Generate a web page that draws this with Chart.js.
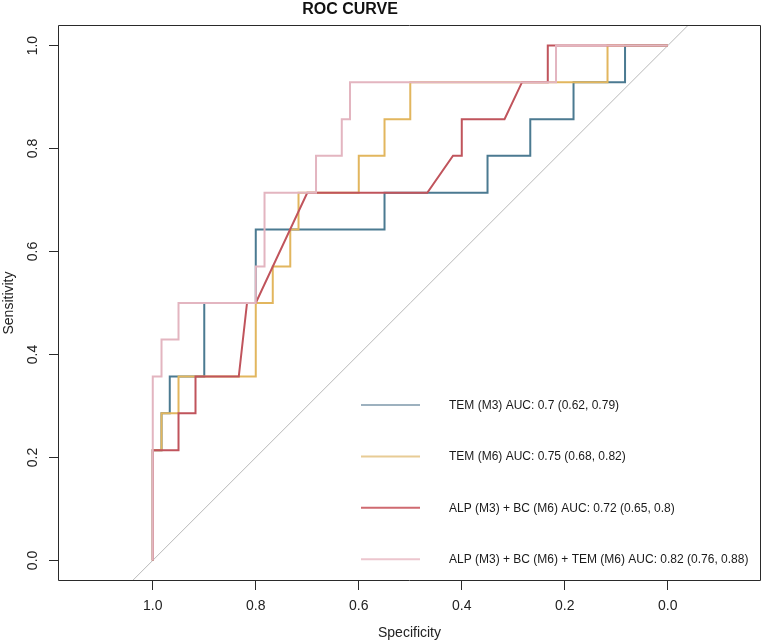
<!DOCTYPE html>
<html><head><meta charset="utf-8">
<script src="https://cdn.jsdelivr.net/npm/chart.js@4/dist/chart.umd.min.js"></script>
<style>html,body{margin:0;padding:0;background:#fff}#wrap{width:764px;height:643px}</style>
</head><body><div id="wrap"><canvas id="c" width="764" height="643"></canvas></div>
<script>
// ---- data ----
const chartTitle = 'ROC CURVE';
const xTitle = 'Specificity';
const yTitle = 'Sensitivity';
const tickValues = [0, 0.2, 0.4, 0.6, 0.8, 1.0];

const seriesLabels = [
  'TEM (M3) AUC: 0.7 (0.62, 0.79)',
  'TEM (M6) AUC: 0.75 (0.68, 0.82)',
  'ALP (M3) + BC (M6) AUC: 0.72 (0.65, 0.8)',
  'ALP (M3) + BC (M6) + TEM (M6) AUC: 0.82 (0.76, 0.88)'
];

const tem3Spec = [1, 1, 0.983, 0.983, 0.967, 0.967, 0.9, 0.9, 0.8, 0.8, 0.55, 0.55, 0.35, 0.35, 0.267, 0.267, 0.183, 0.183, 0.083, 0.083, 0];
const tem3Sens = [0, 0.214, 0.214, 0.286, 0.286, 0.357, 0.357, 0.5, 0.5, 0.643, 0.643, 0.714, 0.714, 0.786, 0.786, 0.857, 0.857, 0.929, 0.929, 1, 1];

const tem6Spec = [1, 1, 0.983, 0.983, 0.95, 0.95, 0.8, 0.8, 0.767, 0.767, 0.733, 0.733, 0.717, 0.717, 0.6, 0.6, 0.55, 0.55, 0.5, 0.5, 0.117, 0.117, 0];
const tem6Sens = [0, 0.214, 0.214, 0.286, 0.286, 0.357, 0.357, 0.5, 0.5, 0.571, 0.571, 0.643, 0.643, 0.714, 0.714, 0.786, 0.786, 0.857, 0.857, 0.929, 0.929, 1, 1];

const alpBcSpec = [1, 1, 0.95, 0.95, 0.917, 0.917, 0.833, 0.817, 0.8, 0.7, 0.467, 0.417, 0.4, 0.4, 0.317, 0.283, 0.233, 0.233, 0];
const alpBcSens = [0, 0.214, 0.214, 0.286, 0.286, 0.357, 0.357, 0.5, 0.5, 0.714, 0.714, 0.786, 0.786, 0.857, 0.857, 0.929, 0.929, 1, 1];

const alpBcTemSpec = [1, 1, 0.983, 0.983, 0.95, 0.95, 0.8, 0.8, 0.783, 0.783, 0.683, 0.683, 0.633, 0.633, 0.617, 0.617, 0.217, 0.217, 0];
const alpBcTemSens = [0, 0.357, 0.357, 0.429, 0.429, 0.5, 0.5, 0.571, 0.571, 0.714, 0.714, 0.786, 0.786, 0.857, 0.857, 0.929, 0.929, 1, 1];

// chance diagonal (sensitivity = 1 - specificity), extended past the axes and clipped
const diagSpec = [1.3, -0.3];
const diagSens = [-0.3, 1.3];

// ---- styles ----
const lineColors = ['#4b7a91', '#e2b65e', '#c0545c', '#e3b5c0'];
const legendColors = ['#9db1bf', '#e8cc95', '#cf6a70', '#ecc6ce'];
const FONT = '"Liberation Sans", Arial, Helvetica, sans-serif';

function pts(xs, ys) { return xs.map((x, i) => ({ x: x, y: ys[i] })); }

const seriesData = [
  pts(tem3Spec, tem3Sens),
  pts(tem6Spec, tem6Sens),
  pts(alpBcSpec, alpBcSens),
  pts(alpBcTemSpec, alpBcTemSens)
];

const datasets = [{
  label: 'diag', data: pts(diagSpec, diagSens), showLine: true, borderColor: '#b8b8b8',
  borderWidth: 1, pointRadius: 0, order: 10
}];
seriesData.forEach((d, i) => datasets.push({
  label: seriesLabels[i], data: d, showLine: true, borderColor: lineColors[i],
  borderWidth: 2, pointRadius: 0, order: 5 - i, tension: 0
}));

const extras = {
  id: 'extras',
  afterDraw(chart) {
    const ctx = chart.ctx, a = chart.chartArea;
    ctx.save();
    // box
    const L = Math.round(a.left) + 0.5, R = Math.round(a.right) - 0.5;
    const T = Math.round(a.top) + 0.5, B = Math.round(a.bottom) - 0.5;
    ctx.strokeStyle = '#2a2a2a'; ctx.lineWidth = 1; ctx.setLineDash([]);
    ctx.beginPath();
    ctx.moveTo(L, T); ctx.lineTo(R, T); ctx.lineTo(R, B); ctx.lineTo(L, B); ctx.closePath();
    ctx.stroke();
    // title
    ctx.fillStyle = '#111';
    ctx.font = 'bold 16px ' + FONT;
    ctx.textAlign = 'center'; ctx.textBaseline = 'middle';
    ctx.fillText(chartTitle, 350, 10);
    // legend
    ctx.font = '12px ' + FONT;
    ctx.textAlign = 'left';
    const rowsY = [405, 456.5, 507.8, 559.2];
    seriesLabels.forEach((t, i) => {
      ctx.strokeStyle = legendColors[i]; ctx.lineWidth = 2;
      ctx.beginPath(); ctx.moveTo(361, rowsY[i]); ctx.lineTo(420, rowsY[i]); ctx.stroke();
      ctx.fillStyle = '#1a1a1a';
      ctx.fillText(t, 449, rowsY[i] + 0.5);
    });
    ctx.restore();
  }
};

new Chart(document.getElementById('c'), {
  type: 'scatter',
  data: { datasets: datasets },
  plugins: [extras],
  options: {
    responsive: false, animation: false, devicePixelRatio: 1,
    layout: { padding: { top: 25, right: 3, left: 0, bottom: 0 } },
    plugins: { legend: { display: false }, tooltip: { enabled: false }, title: { display: false } },
    scales: {
      x: {
        type: 'linear', reverse: true, min: -0.181, max: 1.184,
        afterBuildTicks: s => { s.ticks = tickValues.map(v => ({ value: v })); },
        afterFit: s => { s.height = 62; },
        grid: { drawOnChartArea: false, drawTicks: true, tickLength: 9, tickColor: '#2a2a2a', tickWidth: 1 },
        border: { display: false },
        ticks: { color: '#222', padding: 8, font: { family: FONT, size: 14 }, callback: v => Number(v).toFixed(1), maxRotation: 0, minRotation: 0 },
        title: { display: true, text: xTitle, color: '#222', font: { family: FONT, size: 14 }, padding: { top: 0, bottom: 1 } }
      },
      y: {
        type: 'linear', min: -0.04, max: 1.04,
        afterBuildTicks: s => { s.ticks = tickValues.map(v => ({ value: v })); },
        afterFit: s => { s.width = 58; },
        grid: { drawOnChartArea: false, drawTicks: true, tickLength: 9, tickColor: '#2a2a2a', tickWidth: 1 },
        border: { display: false },
        ticks: { color: '#222', padding: 6, crossAlign: 'center', minRotation: 90, maxRotation: 90, font: { family: FONT, size: 14 }, callback: v => Number(v).toFixed(1) },
        title: { display: true, text: yTitle, color: '#222', font: { family: FONT, size: 14 }, padding: { top: 1, bottom: 0 } }
      }
    }
  }
});
</script>
</body></html>
